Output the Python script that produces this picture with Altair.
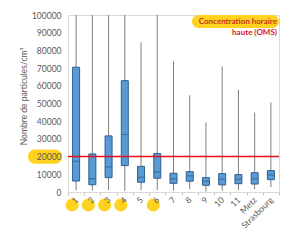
import altair as alt
import pandas as pd

cats = ["1", "2", "3", "4", "5", "6", "7", "8", "9", "10", "11", "Metz", "Strasbourg"]
mins = [1000, 800, 1000, 700, 1100, 1100, 700, 1500, 300, 700, 1000, 1500, 2800]
q1s = [6200, 4100, 8100, 14900, 5500, 7800, 4900, 6100, 3800, 4000, 4700, 4500, 7000]
meds = [17400, 7500, 14200, 32500, 8300, 11300, 7500, 9100, 6100, 7200, 7200, 7400, 9600]
q3s = [70500, 21500, 31700, 62900, 14500, 21700, 10600, 11500, 8100, 10400, 9800, 10900, 12100]
maxs = [100000, 100000, 100000, 100000, 84600, 100000, 73800, 54600, 39300, 71000, 57800, 44900, 50600]
highlighted = [1, 1, 1, 1, 0, 1, 0, 0, 0, 0, 0, 0, 0]
threshold = 20000
y_ticks = list(range(0, 100001, 10000))
legend_line1 = "Concentration horaire"
legend_line2 = "haute (OMS)"
y_title = "Nombre de particules/cm³"

df = pd.DataFrame({"cat": cats, "min": mins, "q1": q1s, "med": meds, "q3": q3s,
                   "max": maxs, "hl": highlighted})

FONT = "Lato"
YEL = "#ffd21f"

xsc = alt.Scale(domain=cats, paddingInner=0, paddingOuter=0)
ysc = alt.Scale(domain=[0, 100000], nice=False)

x_axis = alt.Axis(labelAngle=-45, labelAlign="right", labelBaseline="middle",
                  labelPadding=3, tickBand="extent", tickSize=3,
                  tickColor="#bfbfbf", domainColor="#d9d9d9",
                  labelColor="#595959", labelFont=FONT, labelFontSize=8.5,
                  labelOverlap=False, labelFlush=False, zindex=1, title=None)
y_axis = alt.Axis(values=y_ticks, format="d", domain=False, ticks=False,
                  grid=False, labelPadding=7, labelColor="#595959",
                  labelFont=FONT, labelFontSize=8.5,
                  labelOverlap=False, labelFlush=False,
                  title=y_title,
                  titleFont=FONT, titleFontSize=8.5, titleFontWeight="normal",
                  titleColor="#595959", titleX=-45, titleY=81,
                  titleAngle=-90, titleAlign="center", titleBaseline="middle",
                  zindex=1)

def X():
    return alt.X("cat:N", scale=xsc, sort=cats, axis=x_axis, title=None)

def Y(field):
    return alt.Y(field, scale=ysc, axis=y_axis, title=y_title)

base = alt.Chart(df)

whisk = base.mark_rule(color="#7f7f7f", strokeWidth=1).encode(
    x=X(), y=Y("min:Q"), y2="max:Q")

box = base.mark_bar(size=7, color="#5b9bd5", stroke="#2e5f8f", strokeWidth=1).encode(
    x=X(), y=Y("q1:Q"), y2="q3:Q")

median = base.mark_tick(size=7, thickness=1.2, color="#2e5f8f").encode(
    x=X(), y=Y("med:Q"))

redline = alt.Chart(pd.DataFrame({"v": [threshold]})).mark_rule(
    color="#e3101c", strokeWidth=1.5
).encode(y=Y("v:Q"))

circles = base.transform_filter("datum.hl == 1").mark_circle(
    color=YEL, opacity=1, size=170, xOffset=-4
).encode(x=X(), y=alt.value(190))

pill20 = alt.Chart(pd.DataFrame({"lo": [16000], "hi": [24000]})).mark_rect(
    color=YEL, cornerRadius=7
).encode(x=alt.value(-40), x2=alt.value(-6), y=Y("lo:Q"), y2="hi:Q")

legpill = alt.Chart(pd.DataFrame({"a": [0]})).mark_rect(
    color=YEL, cornerRadius=6.5
).encode(x=alt.value(124), x2=alt.value(211), y=alt.value(0), y2=alt.value(13))

leg1 = alt.Chart(pd.DataFrame({"t": [legend_line1]})).mark_text(
    align="right", baseline="middle", font=FONT, fontSize=8, fontWeight="bold",
    color="#c8331b"
).encode(x=alt.value(209), y=alt.value(7), text="t:N")

leg2 = alt.Chart(pd.DataFrame({"t": [legend_line2]})).mark_text(
    align="right", baseline="middle", font=FONT, fontSize=8, fontWeight="bold",
    color="#e3101c"
).encode(x=alt.value(209), y=alt.value(18), text="t:N")

chart = alt.layer(whisk, box, median, redline, circles, pill20, legpill, leg1, leg2).properties(
    width=211, height=177,
    autosize=alt.AutoSizeParams(type="none"),
    padding={"left": 68, "top": 15, "right": 21, "bottom": 51},
    background="white",
).configure_view(stroke="#d9d9d9", strokeWidth=1)

chart.save("out.html", embed_options={"renderer": "svg", "actions": False})
